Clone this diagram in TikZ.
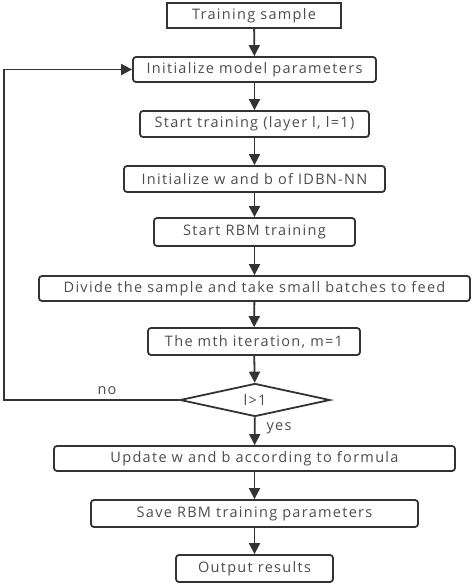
\documentclass[tikz,border=0pt]{standalone}
\usepackage{fontspec}
\setmainfont{Open Sans}[LetterSpace=9]
\usetikzlibrary{arrows.meta,shapes.geometric}

\tikzset{
  flowbox/.style={draw=black!80, line width=1.8pt, rounded corners=3pt, minimum height=25pt,
    inner sep=0pt, text=black!70, font=\fontsize{14.5}{16}\selectfont},
  flowarrow/.style={-{Triangle[length=11pt,width=11pt]}, draw=black!80, line width=1.8pt},
}

\begin{document}
\begin{tikzpicture}[x=1pt,y=-1pt]
            \useasboundingbox (0,0) rectangle (473,585);
            \node[flowbox, rounded corners=0pt, minimum width=174pt] at (254,15.5) (sample) {Training sample};
            \node[flowbox, minimum width=243pt] at (254.5,69.5) (initmodel) {Initialize model parameters};
            \node[flowbox, minimum width=229pt, minimum height=26pt] at (254.5,124) (start) {Start training (layer l, l=1)};
            \node[flowbox, minimum width=261pt, minimum height=26pt] at (254.5,179) (initwb) {Initialize w and b of IDBN-NN};
            \node[flowbox, minimum width=201pt, minimum height=28pt] at (254.5,232) (rbm) {Start RBM training};
            \node[flowbox, minimum width=431pt] at (254.5,288.5) (divide) {Divide the sample and take small batches to feed};
            \node[flowbox, minimum width=212pt, minimum height=27pt] at (254,341.5) (iter) {The mth iteration, m=1};
            \node[flowbox, shape=diamond, rounded corners=0pt, minimum width=150pt, minimum height=33pt, aspect=4.5] at (255,400) (cond) {l>1};
            \node[flowbox, minimum width=401pt] at (254.5,458.5) (update) {Update w and b according to formula};
            \node[flowbox, minimum width=327pt, minimum height=27pt] at (254.5,513.5) (save) {Save RBM training parameters};
            \node[flowbox, minimum width=157pt, minimum height=27pt] at (254.5,568.5) (output) {Output results};
            \coordinate (back) at (4,400);
            \node[text=black!70, font=\fontsize{14.5}{16}\selectfont] at (107,391) (no) {no};
            \node[text=black!70, font=\fontsize{14.5}{16}\selectfont] at (279,428) (yes) {yes};
            \draw[flowarrow] (sample) to (initmodel);
            \draw[flowarrow] (initmodel) to (start);
            \draw[flowarrow] (start) to (initwb);
            \draw[flowarrow] (initwb) to (rbm);
            \draw[flowarrow] (rbm) to (divide);
            \draw[flowarrow] (divide) to (iter);
            \draw[flowarrow] (iter) to (cond);
            \draw[flowarrow] (cond) to (update);
            \draw[flowarrow] (update) to (save);
            \draw[flowarrow] (save) to (output);
            \draw[flowarrow] (cond.west) -- (back) |- (initmodel);
        \end{tikzpicture}
\end{document}
